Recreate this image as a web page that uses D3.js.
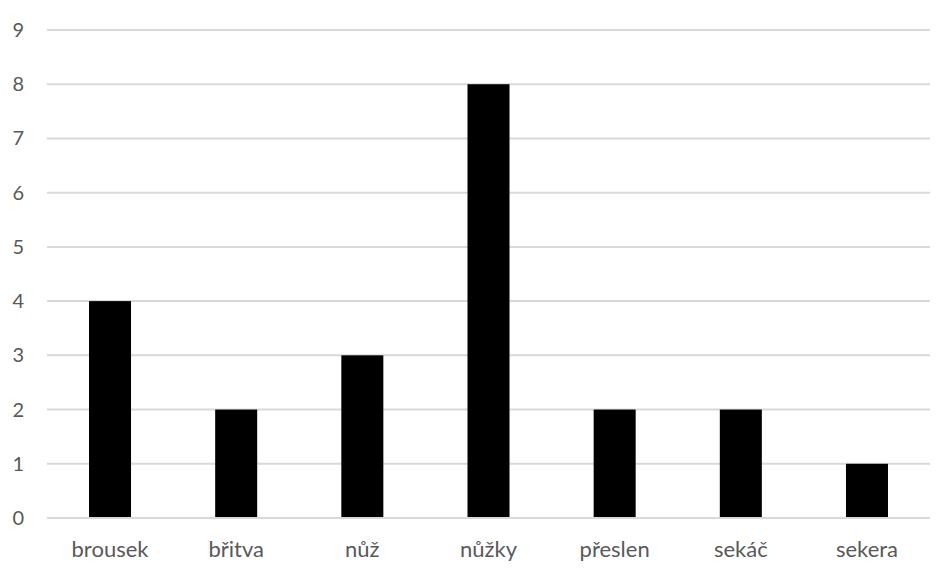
<!DOCTYPE html>
<html><head><meta charset="utf-8">
<script src="https://cdn.jsdelivr.net/npm/d3@7"></script>
<style>body{margin:0;background:#fff}svg{display:block}text{font-family:Lato,"Open Sans",sans-serif;fill:#595959}</style>
</head><body><svg id="c" width="945" height="573"></svg>
<script>
const categories = ["brousek","břitva","nůž","nůžky","přeslen","sekáč","sekera"];
const values = [4,2,3,8,2,2,1];
const yTicks = [0,1,2,3,4,5,6,7,8,9];

const svg = d3.select("#c");
const x = d3.scaleBand().domain(categories).range([47,930]).paddingInner(0.667).paddingOuter(0.333);
const y = d3.scaleLinear().domain([0,9]).range([518,30]);

svg.append("g").selectAll("line").data(yTicks).join("line")
  .attr("x1",47).attr("x2",930).attr("y1",d=>y(d)).attr("y2",d=>y(d))
  .attr("stroke","#d9d9d9").attr("stroke-width",2);

svg.append("g").selectAll("rect").data(values).join("rect")
  .attr("x",(d,i)=>x(categories[i])).attr("width",x.bandwidth())
  .attr("y",d=>y(d)).attr("height",d=>y(0)-y(d)).attr("fill","#000");

svg.append("line").attr("x1",47).attr("x2",930).attr("y1",y(0)).attr("y2",y(0))
  .attr("stroke","#d9d9d9").attr("stroke-width",2);

svg.append("g").selectAll("text").data(yTicks).join("text")
  .attr("x",24).attr("y",d=>y(d)+7).attr("text-anchor","end")
  .attr("font-size",20).text(d=>d);

svg.append("g").selectAll("text").data(categories).join("text")
  .attr("x",d=>x(d)+x.bandwidth()/2).attr("y",557).attr("text-anchor","middle")
  .attr("font-size",22).text(d=>d);
</script></body></html>
